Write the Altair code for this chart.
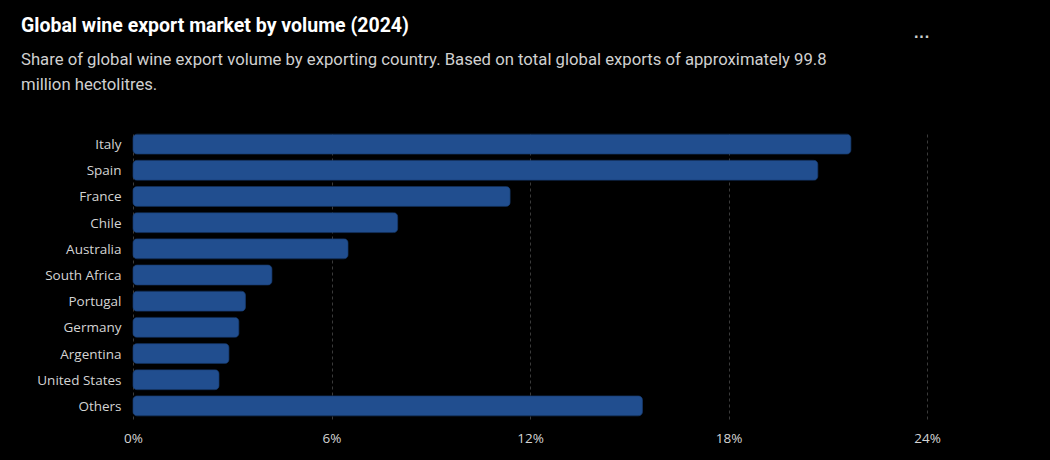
import altair as alt
import pandas as pd

countries = ["Italy", "Spain", "France", "Chile", "Australia", "South Africa",
             "Portugal", "Germany", "Argentina", "United States", "Others"]
shares = [21.7, 20.7, 11.4, 8.0, 6.5, 4.2, 3.4, 3.2, 2.9, 2.6, 15.4]
x_ticks = [0, 6, 12, 18, 24]

df = pd.DataFrame({"country": countries, "share": shares})

FONT = "Segoe UI, Roboto, sans-serif"
LFONT = "Open Sans, sans-serif"

bars = alt.Chart(df).mark_bar(
    color="#214e8f", cornerRadius=4, stroke="#1b4279", strokeWidth=0.6
).encode(
    y=alt.Y("country:N", sort=countries, title=None,
            scale=alt.Scale(paddingInner=0.24, paddingOuter=0.12),
            axis=alt.Axis(ticks=False, domain=False, labelPadding=12, labelOffset=1,
                          labelFontSize=13.5, labelColor="#d4d4d4", labelFont=LFONT,
                          grid=False)),
    x=alt.X("share:Q", title=None,
            scale=alt.Scale(domain=[0, 24], nice=False),
            axis=alt.Axis(values=x_ticks, labelExpr="datum.value + '%'",
                          ticks=False, domain=False, labelPadding=12, labelFlush=False,
                          labelFontSize=13.5, labelColor="#d4d4d4", labelFont=LFONT,
                          grid=True, gridColor="#3a3a3a", gridDash=[3, 3],
                          gridWidth=1)),
)

menu = alt.Chart(pd.DataFrame({"t": ["···"]})).mark_text(
    color="#cfcfcf", fontSize=16, fontWeight="bold", baseline="middle", align="center"
).encode(text="t:N", x=alt.value(789), y=alt.value(-94))

chart = alt.layer(bars, menu).properties(
    width=794,
    height=288,
    background="#000000",
    padding={"left": 133, "top": 131, "right": 123, "bottom": 41},
    autosize="none",
    title=alt.TitleParams(
        text="Global wine export market by volume (2024)",
        subtitle=["Share of global wine export volume by exporting country. Based on total global exports of approximately 99.8",
                  "million hectolitres."],
        anchor="start", frame="group", dx=-112, offset=-66,
        font=FONT, fontSize=19.5, fontWeight="bold", color="#ffffff",
        subtitleFont=FONT, subtitleFontSize=16.7, subtitleColor="#d0d0d0",
        subtitleLineHeight=25, subtitlePadding=16,
    ),
).configure_view(stroke=None)

chart.save("out.html", embed_options={"renderer": "svg", "actions": False})
